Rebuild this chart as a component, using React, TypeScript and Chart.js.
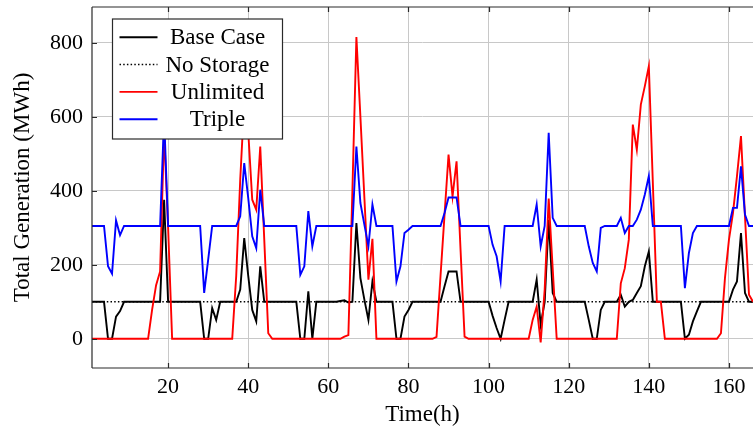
import React, { useEffect, useRef } from 'react';
import { Chart, registerables } from 'chart.js';

Chart.register(...registerables);

// Hours 1..166 (x categories)
const hours: number[] = Array.from({ length: 166 }, (_, i) => i + 1);

const baseCase: number[] = [
  100, 100, 100, 100, 0, 0, 60, 75, 100, 100,
  100, 100, 100, 100, 100, 100, 100, 100, 376, 100,
  100, 100, 100, 100, 100, 100, 100, 100, 0, 0,
  83, 51, 100, 100, 100, 100, 100, 133, 272, 170,
  78, 47, 196, 100, 100, 100, 100, 100, 100, 100,
  100, 100, 0, 0, 128, 0, 100, 100, 100, 100,
  100, 100, 102, 104, 98, 100, 313, 164, 105, 51,
  155, 100, 100, 100, 100, 100, 0, 0, 60, 78,
  100, 100, 100, 100, 100, 100, 100, 100, 142, 182,
  182, 182, 100, 100, 100, 100, 100, 100, 100, 100,
  62, 29, 0, 51, 100, 100, 100, 100, 100, 100,
  100, 160, 38, 100, 322, 124, 100, 100, 100, 100,
  100, 100, 100, 100, 51, 0, 0, 78, 100, 100,
  100, 100, 119, 87, 100, 105, 124, 142, 196, 236,
  100, 100, 100, 100, 100, 100, 100, 100, 0, 11,
  47, 74, 100, 100, 100, 100, 100, 100, 100, 100,
  133, 155, 286, 124, 100, 100,
];

const noStorage: number[] = [
  100, 100, 100, 100, 100, 100, 100, 100, 100, 100,
  100, 100, 100, 100, 100, 100, 100, 100, 100, 100,
  100, 100, 100, 100, 100, 100, 100, 100, 100, 100,
  100, 100, 100, 100, 100, 100, 100, 100, 100, 100,
  100, 100, 100, 100, 100, 100, 100, 100, 100, 100,
  100, 100, 100, 100, 100, 100, 100, 100, 100, 100,
  100, 100, 100, 100, 100, 100, 100, 100, 100, 100,
  100, 100, 100, 100, 100, 100, 100, 100, 100, 100,
  100, 100, 100, 100, 100, 100, 100, 100, 100, 100,
  100, 100, 100, 100, 100, 100, 100, 100, 100, 100,
  100, 100, 100, 100, 100, 100, 100, 100, 100, 100,
  100, 100, 100, 100, 100, 100, 100, 100, 100, 100,
  100, 100, 100, 100, 100, 100, 100, 100, 100, 100,
  100, 100, 100, 100, 100, 100, 100, 100, 100, 100,
  100, 100, 100, 100, 100, 100, 100, 100, 100, 100,
  100, 100, 100, 100, 100, 100, 100, 100, 100, 100,
  100, 100, 100, 100, 100, 100,
];

const unlimited: number[] = [
  0, 0, 0, 0, 0, 0, 0, 0, 0, 0,
  0, 0, 0, 0, 0, 78, 145, 182, 560, 300,
  0, 0, 0, 0, 0, 0, 0, 0, 0, 0,
  0, 0, 0, 0, 0, 0, 170, 430, 640, 560,
  376, 349, 520, 268, 15, 0, 0, 0, 0, 0,
  0, 0, 0, 0, 0, 0, 0, 0, 0, 0,
  0, 0, 0, 6, 10, 400, 816, 600, 380, 160,
  270, 0, 0, 0, 0, 0, 0, 0, 0, 0,
  0, 0, 0, 0, 0, 0, 5, 170, 335, 498,
  385, 480, 240, 6, 0, 0, 0, 0, 0, 0,
  0, 0, 0, 0, 0, 0, 0, 0, 0, 0,
  51, 87, -10, 133, 379, 190, 0, 0, 0, 0,
  0, 0, 0, 0, 0, 0, 0, 0, 0, 0,
  0, 0, 150, 191, 268, 579, 511, 633, 683, 737,
  421, 100, 100, 0, 0, 0, 0, 0, 0, 0,
  0, 0, 0, 0, 0, 0, 0, 15, 164, 268,
  340, 440, 548, 331, 119, 100,
];

const triple: number[] = [
  305, 305, 305, 305, 196, 176, 320, 280, 305, 305,
  305, 305, 305, 305, 305, 305, 305, 305, 600, 305,
  305, 305, 305, 305, 305, 305, 305, 305, 124, 214,
  305, 305, 305, 305, 305, 305, 305, 331, 475, 380,
  277, 245, 403, 305, 305, 305, 305, 305, 305, 305,
  305, 305, 173, 196, 345, 250, 305, 305, 305, 305,
  305, 305, 305, 305, 305, 305, 520, 367, 308, 250,
  363, 305, 305, 305, 305, 305, 155, 196, 286, 295,
  305, 305, 305, 305, 305, 305, 305, 305, 340, 382,
  382, 382, 305, 305, 305, 305, 305, 305, 305, 305,
  254, 223, 155, 305, 305, 305, 305, 305, 305, 305,
  305, 363, 250, 305, 557, 327, 305, 305, 305, 305,
  305, 305, 305, 305, 250, 205, 182, 300, 305, 305,
  305, 305, 327, 286, 305, 305, 322, 349, 390, 440,
  305, 305, 305, 305, 305, 305, 305, 305, 137, 232,
  286, 305, 305, 305, 305, 305, 305, 305, 305, 305,
  354, 354, 466, 336, 305, 305,
];

const xTickValues: number[] = [20, 40, 60, 80, 100, 120, 140, 160];
const yTickValues: number[] = [0, 200, 400, 600, 800];
const seriesNames: string[] = ['Base Case', 'No Storage', 'Unlimited', 'Triple'];
const xTitle = 'Time(h)';
const yTitle = 'Total Generation (MWh)';

const FONT_FAMILY = '"Liberation Serif", "DejaVu Serif", serif';
const FRAME = '#2a2a2a';

const toPoints = (vals: number[]) => vals.map((v, i) => ({ x: hours[i], y: v }));

const framePlugin = {
  id: 'frameAndLegend',
  afterDatasetsDraw(chart: any) {
    const { ctx, chartArea: a, scales } = chart;
    ctx.save();
    ctx.strokeStyle = FRAME;
    ctx.lineWidth = 1.2;
    ctx.setLineDash([]);
    ctx.beginPath();
    ctx.moveTo(a.left, a.top);
    ctx.lineTo(a.right + 2, a.top);
    ctx.moveTo(a.left, a.top);
    ctx.lineTo(a.left, a.bottom);
    ctx.moveTo(a.left, a.bottom);
    ctx.lineTo(a.right + 2, a.bottom);
    for (const v of xTickValues) {
      const x = Math.round(scales.x.getPixelForValue(v)) + 0.5;
      ctx.moveTo(x, a.bottom);
      ctx.lineTo(x, a.bottom - 5);
      ctx.moveTo(x, a.top);
      ctx.lineTo(x, a.top + 5);
    }
    for (const v of yTickValues) {
      const y = Math.round(scales.y.getPixelForValue(v)) + 0.5;
      ctx.moveTo(a.left, y);
      ctx.lineTo(a.left + 5, y);
    }
    ctx.stroke();

    // legend box
    const bx = a.left + 20.5;
    const by = a.top + 12;
    const bw = 170;
    const bh = 120;
    ctx.fillStyle = '#ffffff';
    ctx.fillRect(bx, by, bw, bh);
    ctx.strokeStyle = FRAME;
    ctx.lineWidth = 1.2;
    ctx.strokeRect(bx, by, bw, bh);

    const datasets = chart.data.datasets;
    ctx.font = `23px ${FONT_FAMILY}`;
    ctx.textAlign = 'center';
    ctx.textBaseline = 'middle';
    datasets.forEach((ds: any, i: number) => {
      const y = by + 18.3 + i * 27.3;
      ctx.strokeStyle = ds.borderColor;
      ctx.lineWidth = ds.borderWidth;
      ctx.setLineDash(ds.borderDash || []);
      ctx.beginPath();
      ctx.moveTo(bx + 7, y);
      ctx.lineTo(bx + 45, y);
      ctx.stroke();
      ctx.setLineDash([]);
      ctx.fillStyle = '#000000';
      ctx.fillText(ds.label, bx + 105, y + 1);
    });
    ctx.restore();
  },
};

export default function App() {
  const canvasRef = useRef<HTMLCanvasElement | null>(null);

  useEffect(() => {
    const canvas = canvasRef.current;
    if (!canvas) return;
    const chart = new Chart(canvas, {
      type: 'line',
      data: {
        datasets: [
          {
            label: seriesNames[0],
            data: toPoints(baseCase),
            borderColor: '#000000',
            borderWidth: 1.9,
            pointRadius: 0,
            tension: 0,
            order: 4,
          },
          {
            label: seriesNames[1],
            data: toPoints(noStorage),
            borderColor: '#000000',
            borderWidth: 1.5,
            borderDash: [1.5, 2.2],
            pointRadius: 0,
            tension: 0,
            order: 3,
          },
          {
            label: seriesNames[2],
            data: toPoints(unlimited),
            borderColor: '#ff0000',
            borderWidth: 1.9,
            pointRadius: 0,
            tension: 0,
            order: 2,
          },
          {
            label: seriesNames[3],
            data: toPoints(triple),
            borderColor: '#0000ff',
            borderWidth: 1.9,
            pointRadius: 0,
            tension: 0,
            order: 1,
          },
        ] as any,
      },
      options: {
        responsive: false,
        maintainAspectRatio: false,
        devicePixelRatio: 1,
        animation: false,
        layout: { padding: { left: 0, right: 0, top: 7, bottom: 0 } },
        plugins: {
          legend: { display: false },
          tooltip: { enabled: false },
        },
        scales: {
          x: {
            type: 'linear',
            min: 1,
            max: 166,
            afterBuildTicks: (s: any) => {
              s.ticks = xTickValues.map((v) => ({ value: v }));
            },
            afterFit: (s: any) => {
              s.height = 62;
              s.paddingLeft = 0;
              s.paddingRight = 0;
            },
            ticks: {
              font: { family: FONT_FAMILY, size: 22 },
              color: '#000000',
              padding: 6,
              maxRotation: 0,
              autoSkip: false,
            },
            grid: { color: '#c8c8c8', lineWidth: 1, drawTicks: false },
            border: { display: false },
            title: {
              display: true,
              text: xTitle,
              font: { family: FONT_FAMILY, size: 23 },
              color: '#000000',
              padding: { top: 0, bottom: 1 },
            },
          },
          y: {
            type: 'linear',
            min: -79,
            max: 897,
            afterBuildTicks: (s: any) => {
              s.ticks = yTickValues.map((v) => ({ value: v }));
            },
            afterFit: (s: any) => {
              s.width = 92;
              s.paddingTop = 0;
              s.paddingBottom = 0;
            },
            ticks: {
              font: { family: FONT_FAMILY, size: 22 },
              color: '#000000',
              padding: 9,
              autoSkip: false,
            },
            grid: { color: '#c8c8c8', lineWidth: 1, drawTicks: false },
            border: { display: false },
            title: {
              display: true,
              text: yTitle,
              font: { family: FONT_FAMILY, size: 23 },
              color: '#000000',
              padding: { top: 9, bottom: 0 },
            },
          },
        },
      } as any,
      plugins: [framePlugin],
    });
    return () => chart.destroy();
  }, []);

  return (
    <canvas
      ref={canvasRef}
      width={753}
      height={430}
      style={{ position: 'absolute', left: 0, top: 0, display: 'block' }}
    />
  );
}
